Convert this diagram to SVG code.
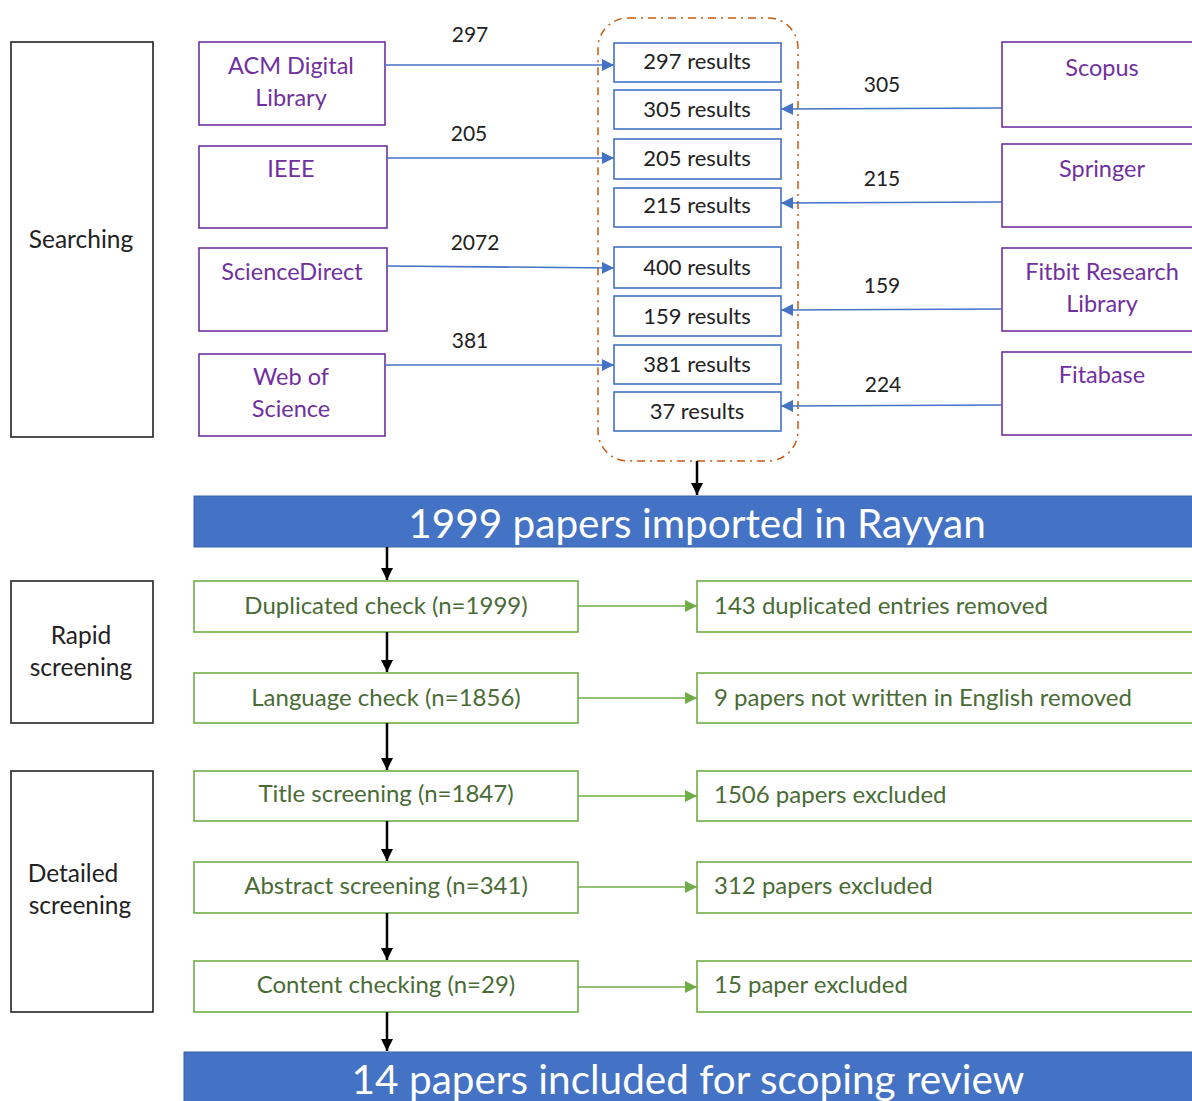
<svg xmlns="http://www.w3.org/2000/svg" width="1192" height="1101" viewBox="0 0 1192 1101">
<defs>
<marker id="ab" viewBox="0 0 10 10" refX="10" refY="5" markerWidth="12" markerHeight="12" markerUnits="userSpaceOnUse" orient="auto"><path d="M0,0 L10,5 L0,10 z" fill="#4472C4"/></marker>
<marker id="ag" viewBox="0 0 10 10" refX="10" refY="5" markerWidth="12" markerHeight="12" markerUnits="userSpaceOnUse" orient="auto"><path d="M0,0 L10,5 L0,10 z" fill="#70AD47"/></marker>
<marker id="ak" viewBox="0 0 10 10" refX="10" refY="5" markerWidth="12" markerHeight="12" markerUnits="userSpaceOnUse" orient="auto"><path d="M0,0 L10,5 L0,10 z" fill="#000"/></marker>
</defs>
<style>
text{font-family:Lato,"Open Sans","Liberation Sans",sans-serif}
.stage{fill:#fff;stroke:#222;stroke-width:1.6}
.stage-t{font-size:24.5px;fill:#222;text-anchor:middle}
.db{fill:#fff;stroke:#7030A0;stroke-width:1.6}
.db-t{font-size:23.5px;fill:#7030A0;text-anchor:middle}
.res{fill:#fff;stroke:#4472C4;stroke-width:1.6}
.res-t{font-size:22px;fill:#222;text-anchor:middle}
.num{font-size:21px;fill:#222;text-anchor:middle}
.gb{fill:#fff;stroke:#70AD47;stroke-width:1.6}
.gb-t{font-size:24px;fill:#4A6B35;text-anchor:middle}
.gx-t{font-size:24px;fill:#4A6B35}
.banner{fill:#4472C4;stroke:#3A62A8;stroke-width:1}
.banner-t{font-size:40.5px;fill:#fff;text-anchor:middle}
.cb{stroke:#4472C4;stroke-width:1.6;fill:none;marker-end:url(#ab)}
.cg{stroke:#70AD47;stroke-width:1.6;fill:none;marker-end:url(#ag)}
.ck{stroke:#000;stroke-width:2.5;fill:none;marker-end:url(#ak)}
</style>
<rect width="1192" height="1101" fill="#fff"/>

<g id="stage-searching"><rect class="stage" x="11" y="42" width="142" height="395"/><text class="stage-t" x="81" y="248">Searching</text></g>
<g id="stage-rapid"><rect class="stage" x="11" y="581" width="142" height="142"/><text class="stage-t" x="81" y="644">Rapid</text><text class="stage-t" x="81" y="676">screening</text></g>
<g id="stage-detailed"><rect class="stage" x="11" y="771" width="142" height="241"/><text class="stage-t" x="73" y="882">Detailed</text><text class="stage-t" x="80" y="914">screening</text></g>

<g id="db-acm"><rect class="db" x="199" y="42" width="186" height="83"/><text class="db-t" x="291" y="74">ACM Digital</text><text class="db-t" x="291" y="106">Library</text></g>
<g id="db-ieee"><rect class="db" x="199" y="146" width="188" height="82"/><text class="db-t" x="291" y="177">IEEE</text></g>
<g id="db-sd"><rect class="db" x="199" y="248" width="188" height="83"/><text class="db-t" x="292" y="280">ScienceDirect</text></g>
<g id="db-wos"><rect class="db" x="199" y="354" width="186" height="82"/><text class="db-t" x="291" y="385">Web of</text><text class="db-t" x="291" y="417">Science</text></g>

<g id="db-scopus"><rect class="db" x="1002" y="42" width="200" height="85"/><text class="db-t" x="1102" y="76">Scopus</text></g>
<g id="db-springer"><rect class="db" x="1002" y="144" width="200" height="83"/><text class="db-t" x="1102" y="177">Springer</text></g>
<g id="db-fitbit"><rect class="db" x="1002" y="248" width="200" height="83"/><text class="db-t" x="1102" y="280">Fitbit Research</text><text class="db-t" x="1102" y="312">Library</text></g>
<g id="db-fitabase"><rect class="db" x="1002" y="352" width="200" height="83"/><text class="db-t" x="1102" y="383">Fitabase</text></g>

<g id="results-group"><rect x="598" y="18" width="200" height="443" rx="30" ry="30" fill="none" stroke="#C55A11" stroke-width="1.5" stroke-dasharray="8,5,2,5"/></g>
<g id="r297"><rect class="res" x="614" y="43" width="167" height="39"/><text class="res-t" x="697" y="69">297 results</text></g>
<g id="r305"><rect class="res" x="614" y="90" width="167" height="39"/><text class="res-t" x="697" y="117">305 results</text></g>
<g id="r205"><rect class="res" x="614" y="139" width="167" height="40"/><text class="res-t" x="697" y="166">205 results</text></g>
<g id="r215"><rect class="res" x="614" y="188" width="167" height="39"/><text class="res-t" x="697" y="213">215 results</text></g>
<g id="r400"><rect class="res" x="614" y="247" width="167" height="41"/><text class="res-t" x="697" y="275">400 results</text></g>
<g id="r159"><rect class="res" x="614" y="296" width="167" height="40"/><text class="res-t" x="697" y="324">159 results</text></g>
<g id="r381"><rect class="res" x="614" y="345" width="167" height="39"/><text class="res-t" x="697" y="372">381 results</text></g>
<g id="r37"><rect class="res" x="614" y="392" width="167" height="39"/><text class="res-t" x="697" y="419">37 results</text></g>

<g id="banner-import"><rect class="banner" x="194" y="496" width="1010" height="51"/><text class="banner-t" x="697" y="538">1999 papers imported in Rayyan</text></g>

<g id="dup"><rect class="gb" x="194" y="581" width="384" height="51"/><text class="gb-t" x="386" y="614">Duplicated check (n=1999)</text></g>
<g id="lang"><rect class="gb" x="194" y="673" width="384" height="50"/><text class="gb-t" x="386" y="706">Language check (n=1856)</text></g>
<g id="title"><rect class="gb" x="194" y="771" width="384" height="50"/><text class="gb-t" x="386" y="802">Title screening (n=1847)</text></g>
<g id="abstract"><rect class="gb" x="194" y="862" width="384" height="51"/><text class="gb-t" x="386" y="894">Abstract screening (n=341)</text></g>
<g id="content"><rect class="gb" x="194" y="961" width="384" height="51"/><text class="gb-t" x="386" y="993">Content checking (n=29)</text></g>

<g id="ex-dup"><rect class="gb" x="697" y="581" width="510" height="51"/><text class="gx-t" x="714" y="614">143 duplicated entries removed</text></g>
<g id="ex-lang"><rect class="gb" x="697" y="673" width="510" height="50"/><text class="gx-t" x="714" y="706">9 papers not written in English removed</text></g>
<g id="ex-title"><rect class="gb" x="697" y="771" width="510" height="50"/><text class="gx-t" x="714" y="803">1506 papers excluded</text></g>
<g id="ex-abstract"><rect class="gb" x="697" y="862" width="510" height="51"/><text class="gx-t" x="714" y="894">312 papers excluded</text></g>
<g id="ex-content"><rect class="gb" x="697" y="961" width="510" height="51"/><text class="gx-t" x="714" y="993">15 paper excluded</text></g>

<g id="banner-final"><rect class="banner" x="184" y="1052" width="1020" height="60"/><text class="banner-t" x="688" y="1094">14 papers included for scoping review</text></g>

<g id="connectors">
<line class="cb" x1="385" y1="65" x2="614" y2="65"/>
<line class="cb" x1="387" y1="158" x2="614" y2="158"/>
<line class="cb" x1="387" y1="266" x2="614" y2="268"/>
<line class="cb" x1="385" y1="365" x2="614" y2="365"/>
<line class="cb" x1="1002" y1="108" x2="781" y2="109"/>
<line class="cb" x1="1002" y1="202" x2="781" y2="203"/>
<line class="cb" x1="1002" y1="309" x2="781" y2="310"/>
<line class="cb" x1="1002" y1="405" x2="781" y2="406"/>
<text class="num" x="470" y="42">297</text>
<text class="num" x="469" y="141">205</text>
<text class="num" x="475" y="250">2072</text>
<text class="num" x="470" y="348">381</text>
<text class="num" x="882" y="92">305</text>
<text class="num" x="882" y="186">215</text>
<text class="num" x="882" y="293">159</text>
<text class="num" x="883" y="392">224</text>
<line class="ck" x1="697" y1="461" x2="697" y2="495"/>
<line class="ck" x1="387" y1="547" x2="387" y2="580"/>
<line class="ck" x1="387" y1="632" x2="387" y2="672"/>
<line class="ck" x1="387" y1="723" x2="387" y2="770"/>
<line class="ck" x1="387" y1="821" x2="387" y2="861"/>
<line class="ck" x1="387" y1="913" x2="387" y2="960"/>
<line class="ck" x1="387" y1="1012" x2="387" y2="1051"/>
<line class="cg" x1="578" y1="606" x2="697" y2="606"/>
<line class="cg" x1="578" y1="698" x2="697" y2="698"/>
<line class="cg" x1="578" y1="796" x2="697" y2="796"/>
<line class="cg" x1="578" y1="887" x2="697" y2="887"/>
<line class="cg" x1="578" y1="987" x2="697" y2="987"/>
</g>
</svg>
